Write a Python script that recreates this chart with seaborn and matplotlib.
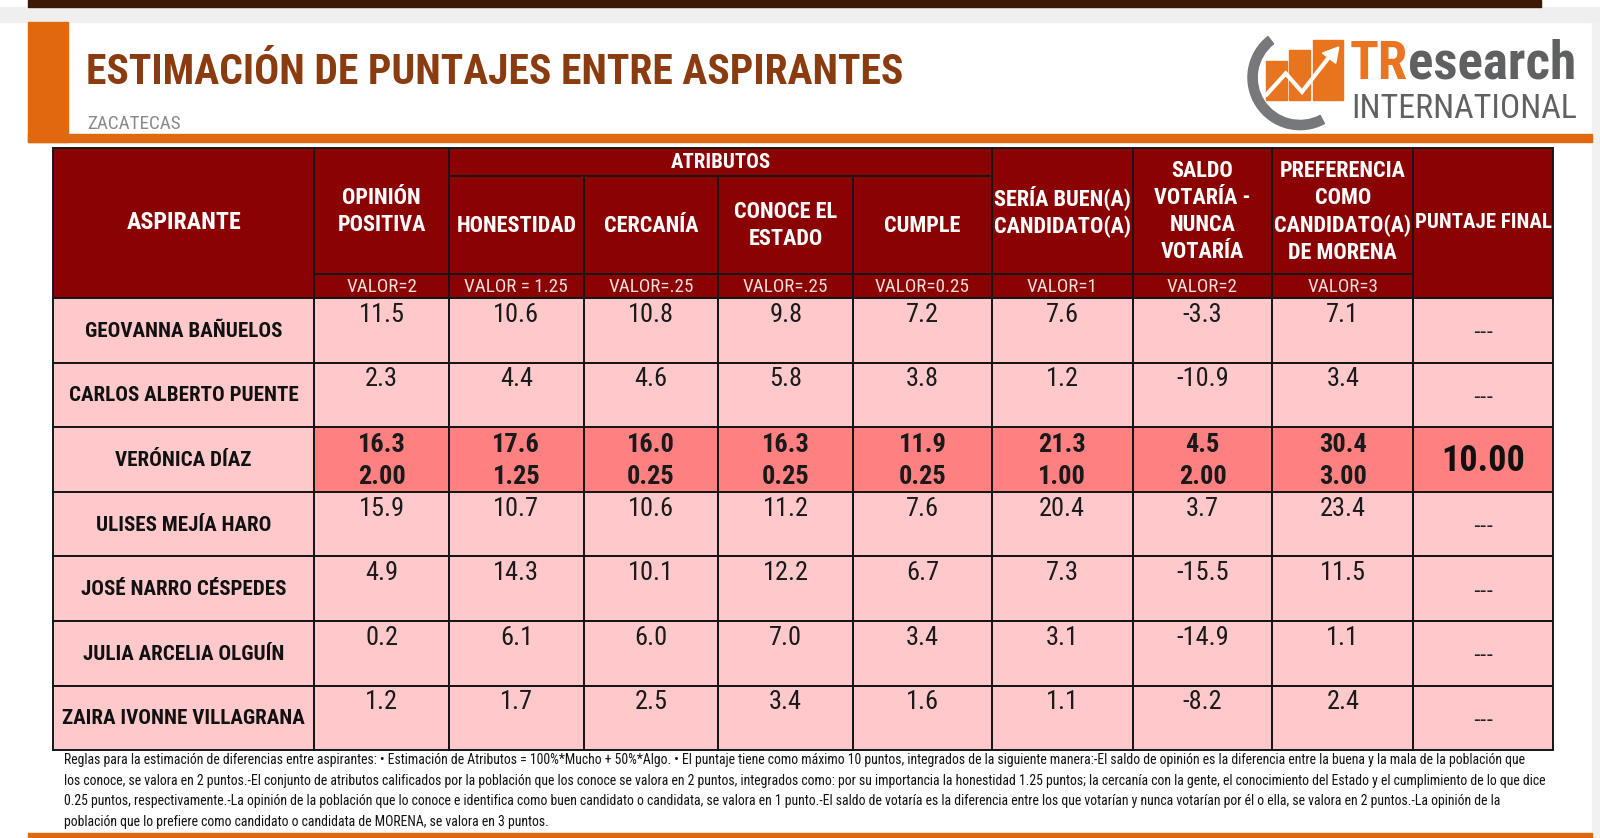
import numpy as np
import pandas as pd
import matplotlib
matplotlib.use("Agg")
import matplotlib.pyplot as plt
import seaborn as sns
from matplotlib.colors import ListedColormap
from matplotlib.patches import Rectangle, Wedge, Polygon
from matplotlib import font_manager as fm

# ---------------- data ----------------
aspirantes = ["GEOVANNA BAÑUELOS", "CARLOS ALBERTO PUENTE", "VERÓNICA DÍAZ",
              "ULISES MEJÍA HARO", "JOSÉ NARRO CÉSPEDES", "JULIA ARCELIA OLGUÍN",
              "ZAIRA IVONNE VILLAGRANA"]
encabezados = ["OPINIÓN\nPOSITIVA", "HONESTIDAD", "CERCANÍA", "CONOCE EL\nESTADO", "CUMPLE",
               "SERÍA BUEN(A)\nCANDIDATO(A)", "SALDO\nVOTARÍA -\nNUNCA\nVOTARÍA",
               "PREFERENCIA\nCOMO\nCANDIDATO(A)\nDE MORENA", "PUNTAJE FINAL"]
valor_etiquetas = ["VALOR=2", "VALOR = 1.25", "VALOR=.25", "VALOR=.25", "VALOR=0.25",
                   "VALOR=1", "VALOR=2", "VALOR=3"]
opinion_positiva = [11.5, 2.3, 16.3, 15.9, 4.9, 0.2, 1.2]
honestidad = [10.6, 4.4, 17.6, 10.7, 14.3, 6.1, 1.7]
cercania = [10.8, 4.6, 16.0, 10.6, 10.1, 6.0, 2.5]
conoce_estado = [9.8, 5.8, 16.3, 11.2, 12.2, 7.0, 3.4]
cumple = [7.2, 3.8, 11.9, 7.6, 6.7, 3.4, 1.6]
buen_candidato = [7.6, 1.2, 21.3, 20.4, 7.3, 3.1, 1.1]
saldo_votaria = [-3.3, -10.9, 4.5, 3.7, -15.5, -14.9, -8.2]
preferencia_morena = [7.1, 3.4, 30.4, 23.4, 11.5, 1.1, 2.4]
puntos_ganadora = [2.00, 1.25, 0.25, 0.25, 0.25, 1.00, 2.00, 3.00]
puntaje_final = ["---", "---", "10.00", "---", "---", "---", "---"]
destacada = [0, 0, 1, 0, 0, 0, 0]

titulo = "ESTIMACIÓN DE PUNTAJES ENTRE ASPIRANTES"
subtitulo = "ZACATECAS"
nota = [
    "Reglas para la estimación de diferencias entre aspirantes: • Estimación de Atributos = 100%*Mucho + 50%*Algo. • El puntaje tiene como máximo 10 puntos, integrados de la siguiente manera:-El saldo de opinión es la diferencia entre la buena y la mala de la población que",
    "los conoce, se valora en 2 puntos.-El conjunto de atributos calificados por la población que los conoce se valora en 2 puntos, integrados como: por su importancia la honestidad 1.25 puntos; la cercanía con la gente, el conocimiento del Estado y el cumplimiento de lo que dice",
    "0.25 puntos, respectivamente.-La opinión de la población que lo conoce e identifica como buen candidato o candidata, se valora en 1 punto.-El saldo de votaría es la diferencia entre los que votarían y nunca votarían por él o ella, se valora en 2 puntos.-La opinión de la",
    "población que lo prefiere como candidato o candidata de MORENA, se valora en 3 puntos.",
]

series = [opinion_positiva, honestidad, cercania, conoce_estado, cumple,
          buen_candidato, saldo_votaria, preferencia_morena]

# ---------------- style / font choice ----------------
sns.set_theme(style="white")

def pick_condensed():
    order = ["Liberation Sans Narrow", "Roboto Condensed", "Open Sans Condensed",
             "Noto Sans Condensed", "DejaVu Sans Condensed", "Noto Sans", "Roboto",
             "DejaVu Sans", "Open Sans", "Lato", "Inter"]
    found = {}
    for f in fm.fontManager.ttflist:
        nm = f.name
        cond = ("condensed" in str(f.stretch)) or ("narrow" in nm.lower()) or ("condensed" in nm.lower())
        if cond:
            found.setdefault(nm, f.stretch)
    for nm in order:
        if nm in found:
            return nm, found[nm]
    if found:
        nm = sorted(found)[0]
        return nm, found[nm]
    return "DejaVu Sans", "normal"

FAM, STR = pick_condensed()
plt.rcParams["font.family"] = [FAM, "DejaVu Sans"]
plt.rcParams["font.stretch"] = STR if STR != "normal" else "condensed"

HEAD = "#8b0202"
PINK = "#ffc9cc"
HIL = "#ff8080"
EDGE = "#161616"
ORANGE = "#e0680f"
BROWN = "#8a3c10"

# coordinate system in reference-view pixels
W, H = 1568, 821
S = 1600 / W
fig = plt.figure(figsize=(16, 8.38), dpi=100)
fig.patch.set_facecolor("white")
bg = fig.add_axes([0, 0, 1, 1])
bg.set_xlim(0, W)
bg.set_ylim(H, 0)
bg.axis("off")

# page decoration
bg.add_patch(Rectangle((27, 0), 1483, 7, color="#3e1806", zorder=1))
bg.add_patch(Rectangle((0, 7), W, 15, color="#efefef", zorder=0))
bg.add_patch(Rectangle((1560, 22), 10, H - 22, color="#f1f1f1", zorder=0))
bg.add_patch(Rectangle((27, 22), 40, 117, color=ORANGE, zorder=2))
bg.add_patch(Rectangle((27, 131), 1533, 8, color=ORANGE, zorder=2))
bg.add_patch(Rectangle((27, 816), 1533, 6, color=ORANGE, zorder=2))

t_title = bg.text(84, 82, titulo, color=BROWN, fontsize=44, fontweight="bold",
                  ha="left", va="baseline", zorder=3)
t_sub = bg.text(85, 126, subtitulo, color="#8a8a8a", fontsize=21, ha="left",
                va="baseline", zorder=3)

# logo
bg.add_patch(Wedge((1274, 76), 51, 62, 232, width=9, color="#77787b", zorder=3))
for (x0, y0, ww) in [(1241, 60, 20), (1263, 49, 21), (1287, 39, 29)]:
    bg.add_patch(Rectangle((x0, y0), ww, 98 - y0, color="#e8741e", zorder=2.5))
bg.add_patch(Polygon([(1240, 94), (1260, 72), (1276, 90), (1304, 54)], closed=False,
                     fill=False, edgecolor="white", lw=3, zorder=4))
bg.add_patch(Polygon([(1296, 52), (1312, 46), (1309, 62)], closed=True, color="white", zorder=4))
t_tr = bg.text(1323, 77, "TR", color="#ea7420", fontsize=40, fontweight="bold",
               ha="left", va="baseline", zorder=3)
t_es = bg.annotate("esearch", xy=(1, 0), xycoords=t_tr, color="#5f6062", fontsize=40,
                   fontweight="bold", ha="left", va="bottom", zorder=3)
t_int = bg.text(1324, 116, "INTERNATIONAL", color="#606163", fontsize=30,
                ha="left", va="baseline", zorder=3)

# ---------------- table geometry ----------------
xL = 52
xs = [308, 440, 572, 704, 836, 972, 1110, 1247, 1385, 1522]
yTop, yAttr, yVal, yBody, yBot = 145, 172, 268, 292, 735
ncol = len(encabezados)
lw_edge = 1.4

def cell(x0, y0, x1, y1, fc):
    bg.add_patch(Rectangle((x0, y0), x1 - x0, y1 - y0, facecolor=fc, edgecolor=EDGE,
                           lw=lw_edge, zorder=2))

fits = []
head_group = []
name_group = []
valor_group = []
# ASPIRANTE header
cell(xL, yTop, xs[0], yBody, HEAD)
t_asp = bg.text((xL + xs[0]) / 2, (yTop + yBody) / 2 - 1, "ASPIRANTE", color="white",
                fontsize=18, fontweight="bold", ha="center", va="center", zorder=3)
# ATRIBUTOS
cell(xs[1], yTop, xs[5], yAttr, HEAD)
bg.text((xs[1] + xs[5]) / 2, (yTop + yAttr) / 2 + 1, "ATRIBUTOS", color="white", fontsize=15,
        fontweight="bold", ha="center", va="center", zorder=3)
t_pf = None
for j, lab in enumerate(encabezados):
    x0, x1 = xs[j], xs[j + 1]
    if j == ncol - 1:
        cell(x0, yTop, x1, yBody, HEAD)
        yc = (yTop + yBody) / 2 - 1
    elif 1 <= j <= 4:
        cell(x0, yAttr, x1, yVal, HEAD)
        yc = (yAttr + yVal) / 2 + 1
    else:
        cell(x0, yTop, x1, yVal, HEAD)
        yc = (yTop + yVal) / 2 + 1
    t = bg.text((x0 + x1) / 2, yc, lab, color="white", fontsize=20,
                fontweight="bold", ha="center", va="center",
                linespacing=1.3, zorder=3)
    if j == ncol - 1:
        t_pf = (t, x1 - x0 - 3)
    else:
        head_group.append((t, x1 - x0 - 3))
    if j < ncol - 1:
        cell(x0, yVal, x1, yBody, HEAD)
        t = bg.text((x0 + x1) / 2, (yVal + yBody) / 2 + 1, valor_etiquetas[j], color="#f4dede",
                    fontsize=14, ha="center", va="center", zorder=3)
        valor_group.append((t, x1 - x0 - 30))

# names column
rh = (yBot - yBody) / len(aspirantes)
for i, name in enumerate(aspirantes):
    y0 = yBody + i * rh
    cell(xL, y0, xs[0], y0 + rh, PINK)
    t = bg.text((xL + xs[0]) / 2, y0 + rh / 2 + 1, name, color="#111111", fontsize=24,
                fontweight="bold", ha="center", va="center", zorder=3)
    name_group.append((t, 238))

# ---------------- body: one seaborn heatmap strip per column ----------------
flags = pd.DataFrame(np.repeat(np.array(destacada)[:, None], ncol, axis=1),
                     index=aspirantes, columns=[e.replace("\n", " ") for e in encabezados])
cmap = ListedColormap([PINK, HIL])
for j, col in enumerate(flags.columns):
    x0, x1 = xs[j], xs[j + 1]
    hax = fig.add_axes([x0 / W, 1 - yBot / H, (x1 - x0) / W, (yBot - yBody) / H])
    sns.heatmap(flags[[col]], ax=hax, cmap=cmap, vmin=0, vmax=1, cbar=False,
                linewidths=lw_edge, linecolor=EDGE, xticklabels=False, yticklabels=False)
    hax.set_xlabel("")
    hax.set_ylabel("")
    for s in hax.spines.values():
        s.set_visible(True)
        s.set_color(EDGE)
        s.set_linewidth(lw_edge)
    for i in range(len(aspirantes)):
        if j < len(series):
            ser = series[j]
            if destacada[i]:
                hax.text(0.5, i + 0.28, f"{ser[i]:.1f}", ha="center", va="center",
                         fontsize=19, fontweight="bold", color="#1a1a1a")
                hax.text(0.5, i + 0.77, f"{puntos_ganadora[j]:.2f}", ha="center", va="center",
                         fontsize=19, fontweight="bold", color="#1a1a1a")
            else:
                hax.text(0.5, i + 0.26, f"{ser[i]:.1f}", ha="center", va="center",
                         fontsize=19, color="#1a1a1a")
        else:
            if destacada[i]:
                t = hax.text(0.5, i + 0.52, puntaje_final[i], ha="center", va="center",
                             fontsize=38, fontweight="bold", color="#111111")
                fits.append((t, 82))
            else:
                hax.text(0.5, i + 0.53, puntaje_final[i], ha="center", va="center",
                         fontsize=15, color="#222222", family="DejaVu Sans")

# footnote
t_notes = []
for k, line in enumerate(nota):
    t_notes.append(bg.text(63, 745 + k * 20, line, fontsize=11, color="#111111",
                           ha="left", va="center", zorder=3))

# ---------------- fit texts to widths ----------------
fig.canvas.draw()
r = fig.canvas.get_renderer()

def width(t):
    return t.get_window_extent(r).width / S

def fit(t, maxw):
    w = width(t)
    if w > maxw:
        t.set_fontsize(t.get_fontsize() * maxw / w)

def fit_group(group):
    f = min(1.0, min(mw / width(t) for t, mw in group))
    for t, _ in group:
        t.set_fontsize(t.get_fontsize() * f)

fit(t_title, 802)
fit(t_sub, 92)
sc = 1437 / width(t_notes[0])
for t in t_notes:
    t.set_fontsize(t.get_fontsize() * sc)
for t, mw in fits:
    fit(t, mw)
fit_group(head_group)
fit(t_pf[0], t_pf[1])
t_asp.set_fontsize(head_group[0][0].get_fontsize() * 1.08)
fit_group(name_group)
fit_group(valor_group)
fig.canvas.draw()
wtr = width(t_tr) + width(t_es)
f = 222 / wtr
t_tr.set_fontsize(t_tr.get_fontsize() * f)
t_es.set_fontsize(t_es.get_fontsize() * f)
fit(t_int, 221)

fig.savefig("out.png", dpi=100, facecolor="white")
